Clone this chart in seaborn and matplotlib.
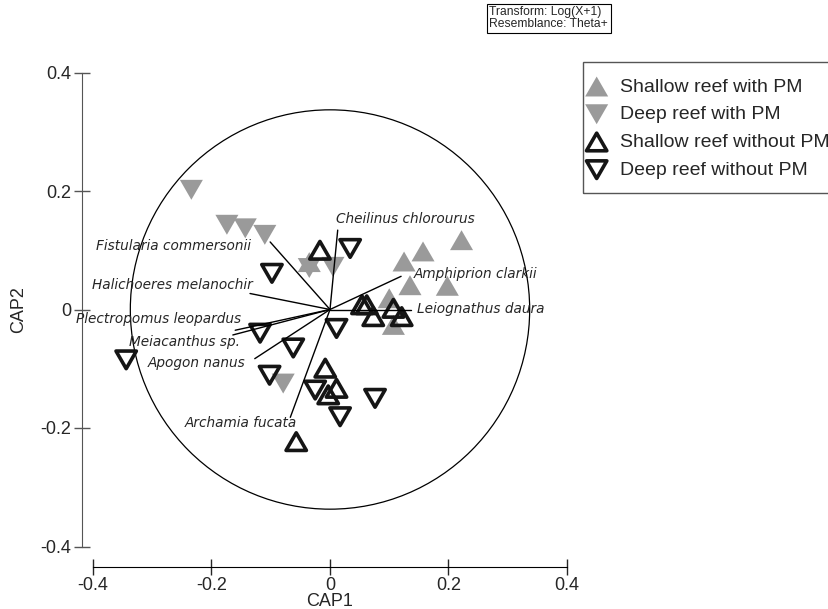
import numpy as np
import pandas as pd
import matplotlib
matplotlib.use("Agg")
import matplotlib.pyplot as plt
from matplotlib.patches import Circle, Rectangle
from matplotlib.path import Path
import seaborn as sns

# CAP scores
shallow_pm_x = [0.222, 0.157, 0.125, 0.135, 0.198, 0.100, 0.107, -0.035]
shallow_pm_y = [0.117, 0.098, 0.081, 0.041, 0.040, 0.019, -0.026, 0.080]

deep_pm_x = [-0.234, -0.174, -0.143, -0.110, -0.035, 0.005, -0.079]
deep_pm_y = [0.202, 0.143, 0.137, 0.126, 0.070, 0.072, -0.125]

shallow_nopm_x = [-0.017, 0.054, 0.062, 0.073, 0.107, 0.121, -0.008, 0.011, -0.003, -0.057]
shallow_nopm_y = [0.100, 0.008, 0.008, -0.012, 0.002, -0.012, -0.099, -0.133, -0.144, -0.223]

deep_nopm_x = [0.034, -0.098, -0.344, -0.118, 0.011, -0.062, -0.102, -0.025, 0.076, 0.017]
deep_nopm_y = [0.103, 0.061, -0.085, -0.040, -0.032, -0.065, -0.111, -0.136, -0.150, -0.181]

groups = ['Shallow reef with PM', 'Deep reef with PM',
          'Shallow reef without PM', 'Deep reef without PM']

# species vectors (correlations)
species = ['Cheilinus chlorourus', 'Amphiprion clarkii', 'Leiognathus daura',
           'Fistularia commersonii', 'Halichoeres melanochir', 'Plectropomus leopardus',
           'Meiacanthus sp.', 'Apogon nanus', 'Archamia fucata']
vec_x = [0.013, 0.120, 0.137, -0.101, -0.135, -0.160, -0.164, -0.127, -0.067]
vec_y = [0.134, 0.056, 0.000, 0.114, 0.027, -0.035, -0.043, -0.083, -0.182]

ticks = [-0.4, -0.2, 0, 0.2, 0.4]
tick_labels = ['-0.4', '-0.2', '0', '0.2', '0.4']

df = pd.concat([
    pd.DataFrame({'CAP1': shallow_pm_x, 'CAP2': shallow_pm_y, 'group': groups[0]}),
    pd.DataFrame({'CAP1': deep_pm_x, 'CAP2': deep_pm_y, 'group': groups[1]}),
    pd.DataFrame({'CAP1': shallow_nopm_x, 'CAP2': shallow_nopm_y, 'group': groups[2]}),
    pd.DataFrame({'CAP1': deep_nopm_x, 'CAP2': deep_nopm_y, 'group': groups[3]}),
])

sns.set_style("ticks")
plt.rcParams['font.family'] = ['Liberation Sans', 'DejaVu Sans']

fig = plt.figure(figsize=(8.29, 6.09), dpi=100)
W, H = 829, 609
scale = 592.5          # pixels per CAP unit
cx, cy = 330, 309.5    # pixel of origin
lim = 0.45
ax = fig.add_axes([(cx - lim * scale) / W, 1 - (cy + lim * scale) / H,
                   2 * lim * scale / W, 2 * lim * scale / H])

# equilateral triangles, closed so the outline is drawn all round
up = Path([(0, 0.866), (-1, -0.866), (1, -0.866), (0, 0)], closed=True)
down = Path([(0, -0.866), (-1, 0.866), (1, 0.866), (0, 0)], closed=True)
gray = '#9a9a9a'
dark = '#151515'
styles = {
    groups[0]: dict(marker=up, s=275, color=gray, edgecolor='none', linewidth=0),
    groups[1]: dict(marker=down, s=275, color=gray, edgecolor='none', linewidth=0),
    groups[2]: dict(marker=up, s=215, color=dark, facecolors='none', edgecolor=dark, linewidth=2.6),
    groups[3]: dict(marker=down, s=215, color=dark, facecolors='none', edgecolor=dark, linewidth=2.6),
}

ax.add_patch(Circle((0, 0), 0.337, fill=False, lw=0.9, color='black', zorder=0))

for g in groups:
    sub = df[df['group'] == g]
    sns.scatterplot(data=sub, x='CAP1', y='CAP2', ax=ax, label=g, zorder=2, **styles[g])

# label offsets in points (ha, dx, dy)
offsets = [('left', -1.5, 8), ('left', 9, 2), ('left', 4, 0),
           ('right', -14, -3), ('right', 2, 6), ('right', 4, 8),
           ('right', 5, -5), ('right', -7, -3), ('right', 5, -4)]
for name, vx, vy, (ha, dx, dy) in zip(species, vec_x, vec_y, offsets):
    ax.plot([0, vx], [0, vy], color='black', lw=1, zorder=3)
    ax.annotate(name, (vx, vy), xytext=(dx, dy), textcoords='offset points',
                ha=ha, va='center', fontstyle='italic', fontsize=9.8,
                family=['DejaVu Sans'])

ax.set_xlim(-lim, lim)
ax.set_ylim(-lim, lim)
for side in ['top', 'right']:
    ax.spines[side].set_visible(False)
ax.spines['left'].set_position(('data', -0.4186))
ax.spines['left'].set_bounds(-0.4, 0.4)
ax.spines['left'].set_color('#555555')
ax.spines['bottom'].set_position(('data', -0.4346))
ax.spines['bottom'].set_bounds(-0.4, 0.4)
ax.spines['bottom'].set_color('black')
ax.set_xticks(ticks)
ax.set_xticklabels(tick_labels)
ax.set_yticks(ticks)
ax.set_yticklabels(tick_labels)
ax.tick_params(direction='inout', length=11, width=1, labelsize=13, pad=2)
ax.tick_params(axis='y', color='#555555')
ax.set_xlabel('CAP1', fontsize=13, labelpad=-1)
ax.set_ylabel('CAP2', fontsize=13, labelpad=10)

# legend without its own frame; the box is drawn separately (it runs off the right edge)
ax.legend(loc='upper left', bbox_to_anchor=(585 / W, 1 - 78 / H), bbox_transform=fig.transFigure,
          frameon=False, fontsize=14, handletextpad=0.6,
          borderpad=0, labelspacing=0.52, borderaxespad=0, handlelength=1.2)
fig.add_artist(Rectangle((583 / W, 1 - 193 / H), 400 / W, 131 / H, transform=fig.transFigure,
                         fill=False, ec='#555555', lw=1))

fig.text(489.5 / W, 1 - 6.4 / H, 'Transform: Log(X+1)\nResemblance: Theta+', fontsize=8.7,
         ha='left', va='top', linespacing=1.0,
         bbox=dict(boxstyle='square,pad=0.2', fc='white', ec='black', lw=0.8))

fig.savefig('out.png', dpi=100)
